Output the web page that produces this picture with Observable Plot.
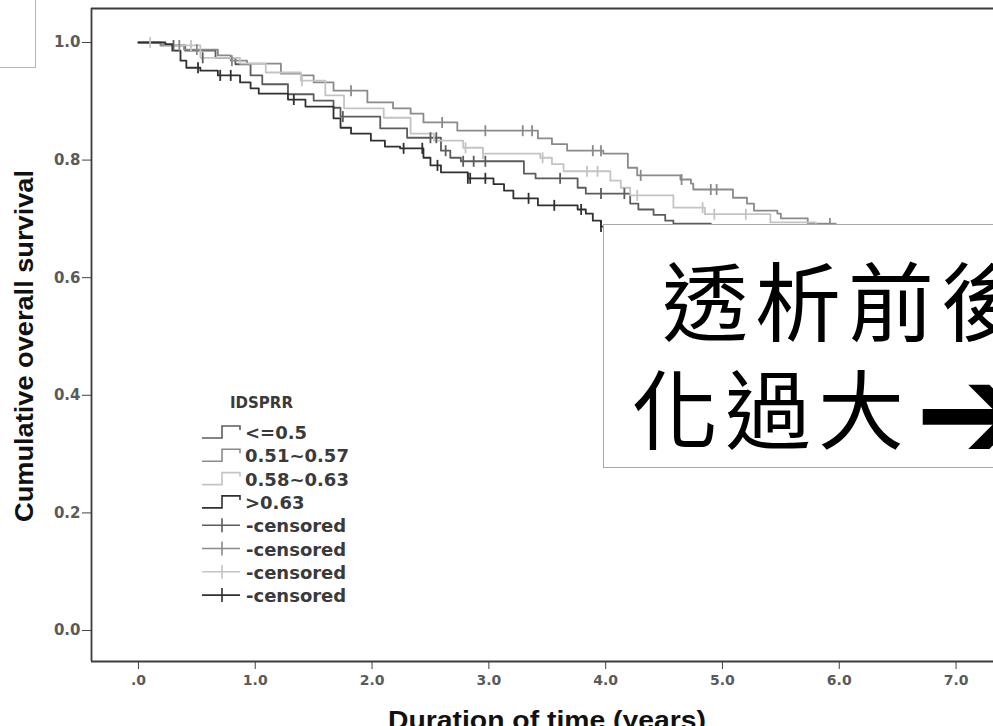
<!DOCTYPE html>
<html><head><meta charset="utf-8">
<script src="https://cdn.jsdelivr.net/npm/d3@7"></script>
<script src="https://cdn.jsdelivr.net/npm/@observablehq/plot@0.6"></script>
<style>
html,body{margin:0;padding:0;background:#fff;overflow:hidden;width:993px;height:726px;}
#wrap{position:relative;width:993px;height:726px;overflow:hidden;}
#chart{position:absolute;left:0;top:0;width:1010px;}
#chart svg{overflow:visible;max-width:none !important;width:1010px !important;height:726px !important;}
#chart svg [aria-label^="y-axis"] text{font-size:15px;font-weight:bold;fill:#5a5a5a;}
#chart svg [aria-label^="x-axis"] text{font-size:14px;font-weight:bold;fill:#5a5a5a;}
.corner{position:absolute;left:-1px;top:-1px;width:35px;height:67px;border:1px solid #b4b4b4;background:#fff;}
.note{position:absolute;left:603px;top:224px;width:420px;height:242px;border:1px solid #a8a8a8;background:#fff;}
.note span{position:absolute;white-space:nowrap;font-family:"Noto Sans CJK TC","DejaVu Sans",sans-serif;line-height:1;color:#000;}
#overlay{position:absolute;left:0;top:0;pointer-events:none;}
</style>
</head><body>
<div id="wrap">
  <div id="chart"></div>
  <svg id="overlay" width="993" height="726"></svg>
  <div class="corner"></div>
  <div class="note">
    <span style="left:58px;top:30px;font-size:86px;letter-spacing:7px">透析前後</span>
    <span style="left:28px;top:138px;font-size:86px;letter-spacing:7px">化過大</span>
    <span style="left:311px;top:108px;font-size:135px">➔</span>
  </div>
</div>
<script>
// ---- data ----
const groups = ["<=0.5", "0.51~0.57", "0.58~0.63", ">0.63"];
const groupColors = ["#5c5c5c", "#8a8a8a", "#c4c4c4", "#303030"];
const legendTitle = "IDSPRR";
const censoredLabel = "-censored";
const xTitle = "Duration of  time (years)";
const yTitle = "Cumulative overall survival";
const xTicks = [0, 1, 2, 3, 4, 5, 6, 7];
const xTickLabels = [".0", "1.0", "2.0", "3.0", "4.0", "5.0", "6.0", "7.0"];
const yTicks = [0, 0.2, 0.4, 0.6, 0.8, 1.0];
const yTickLabels = ["0.0", "0.2", "0.4", "0.6", "0.8", "1.0"];
const xDomain = [-0.402, 7.466];
const yDomain = [-0.0527, 1.0578];

// <=0.5
const timeA = [0, 0.19, 0.40, 0.66, 0.83, 0.96, 1.06, 1.28, 1.50, 1.67, 1.73, 2.07, 2.30, 2.59, 2.67, 2.76, 3.30, 3.40, 3.76, 3.83, 4.21, 4.28, 4.41, 4.51, 4.58, 4.90, 5.50, 6.20];
const survA = [1.000, 0.995, 0.986, 0.974, 0.963, 0.944, 0.929, 0.912, 0.901, 0.889, 0.874, 0.854, 0.838, 0.816, 0.804, 0.798, 0.777, 0.769, 0.753, 0.743, 0.726, 0.716, 0.707, 0.697, 0.692, 0.680, 0.660, 0.660];
const censTimeA = [0.30, 0.55, 1.75, 2.50, 2.55, 2.63, 2.78, 2.87, 2.97, 3.61, 3.96, 4.16];
const censSurvA = [0.995, 0.974, 0.874, 0.838, 0.838, 0.816, 0.798, 0.798, 0.798, 0.769, 0.743, 0.743];

// 0.51~0.57
const timeB = [0, 0.19, 0.39, 0.68, 0.79, 0.93, 1.22, 1.39, 1.50, 1.67, 1.96, 2.18, 2.33, 2.44, 2.73, 3.42, 3.54, 3.67, 3.98, 4.19, 4.27, 4.64, 4.73, 4.75, 5.09, 5.21, 5.27, 5.47, 5.50, 5.73, 5.97, 6.40, 6.70];
const survB = [1.000, 0.995, 0.988, 0.978, 0.969, 0.964, 0.947, 0.944, 0.932, 0.918, 0.898, 0.888, 0.879, 0.864, 0.850, 0.837, 0.827, 0.816, 0.811, 0.787, 0.774, 0.767, 0.760, 0.750, 0.736, 0.726, 0.714, 0.709, 0.701, 0.692, 0.680, 0.665, 0.665];
const censTimeB = [0.35, 0.50, 0.80, 1.82, 2.60, 2.97, 3.29, 3.37, 3.89, 3.96, 4.30, 4.65, 4.90, 4.95, 5.92];
const censSurvB = [0.995, 0.988, 0.969, 0.918, 0.864, 0.850, 0.850, 0.850, 0.816, 0.816, 0.774, 0.767, 0.750, 0.750, 0.692];

// 0.58~0.63
const timeC = [0, 0.23, 0.53, 0.87, 1.09, 1.39, 1.60, 1.76, 2.10, 2.33, 2.53, 2.78, 2.95, 3.44, 3.54, 3.64, 4.04, 4.13, 4.21, 4.58, 4.85, 5.41, 5.80, 6.40];
const survC = [1.000, 0.995, 0.974, 0.964, 0.949, 0.935, 0.910, 0.888, 0.872, 0.845, 0.833, 0.821, 0.811, 0.804, 0.793, 0.781, 0.765, 0.753, 0.740, 0.719, 0.708, 0.694, 0.675, 0.675];
const censTimeC = [0.10, 0.45, 1.40, 2.80, 2.95, 3.46, 3.84, 3.93, 4.27, 4.83, 4.93, 5.20];
const censSurvC = [1.000, 0.995, 0.935, 0.821, 0.811, 0.804, 0.781, 0.781, 0.740, 0.719, 0.708, 0.708];

// >0.63
const timeD = [0, 0.23, 0.29, 0.36, 0.41, 0.53, 0.68, 0.87, 0.96, 1.03, 1.28, 1.43, 1.67, 1.73, 1.82, 1.99, 2.11, 2.24, 2.44, 2.50, 2.59, 2.82, 3.04, 3.13, 3.21, 3.42, 3.76, 3.83, 3.89, 3.96, 4.30, 5.00];
const survD = [1.000, 0.997, 0.986, 0.969, 0.957, 0.952, 0.944, 0.932, 0.922, 0.913, 0.903, 0.891, 0.871, 0.855, 0.845, 0.833, 0.823, 0.820, 0.804, 0.791, 0.779, 0.769, 0.759, 0.748, 0.735, 0.723, 0.716, 0.709, 0.697, 0.687, 0.670, 0.670];
const censTimeD = [0.51, 0.70, 0.79, 1.33, 2.27, 2.43, 2.56, 2.82, 2.84, 2.97, 3.34, 3.56, 3.79, 3.96];
const censSurvD = [0.957, 0.944, 0.944, 0.903, 0.820, 0.820, 0.791, 0.769, 0.769, 0.769, 0.735, 0.723, 0.716, 0.687];

// ---- build tables ----
const series = [
  [timeA, survA, censTimeA, censSurvA],
  [timeB, survB, censTimeB, censSurvB],
  [timeC, survC, censTimeC, censSurvC],
  [timeD, survD, censTimeD, censSurvD]
];
const steps = [], censored = [];
series.forEach(([t, s, ct, cs], k) => {
  t.forEach((v, i) => steps.push({group: groups[k], t: v, s: s[i]}));
  ct.forEach((v, i) => censored.push({group: groups[k], t: v, s: cs[i]}));
});

const tickSymbol = {
  draw(ctx, size) {
    const r = Math.sqrt(size / Math.PI);
    ctx.moveTo(0, -r);
    ctx.lineTo(0, r);
  }
};

const chart = Plot.plot({
  width: 1010,
  height: 726,
  marginLeft: 91,
  marginRight: 0,
  marginTop: 8,
  marginBottom: 65,
  style: {fontFamily: "'DejaVu Sans', sans-serif", fontSize: "13px", color: "#444", background: "transparent", overflow: "visible", maxWidth: "none"},
  x: {domain: xDomain, ticks: xTicks, tickFormat: d => xTickLabels[xTicks.indexOf(d)], tickSize: 8, tickPadding: 6, label: null},
  y: {domain: yDomain, ticks: yTicks, tickFormat: d => yTickLabels[yTicks.indexOf(d)], tickSize: 9, tickPadding: 2, label: null},
  color: {domain: groups, range: groupColors},
  marks: [
    Plot.ruleX([xDomain[0]], {stroke: "#3c3c3c", strokeWidth: 1.8}),
    Plot.ruleY([yDomain[0], yDomain[1]], {stroke: "#3c3c3c", strokeWidth: 1.8}),
    Plot.line(steps, {x: "t", y: "s", z: "group", stroke: "group", curve: "step-after", strokeWidth: 1.8}),
    Plot.dot(censored, {x: "t", y: "s", stroke: "group", symbol: tickSymbol, r: 5.5, strokeWidth: 1.8})
  ]
});
document.getElementById("chart").appendChild(chart);

// ---- axis titles and legend ----
const ov = d3.select("#overlay");
ov.append("text")
  .attr("transform", "translate(33,346) rotate(-90)")
  .attr("text-anchor", "middle")
  .attr("font-family", "'Liberation Sans', Arial, sans-serif")
  .attr("font-weight", "bold").attr("font-size", 25).attr("fill", "#111")
  .attr("textLength", 352).attr("lengthAdjust", "spacingAndGlyphs")
  .text(yTitle);
ov.append("text")
  .attr("x", 547).attr("y", 729)
  .attr("text-anchor", "middle")
  .attr("font-family", "'Liberation Sans', Arial, sans-serif")
  .attr("font-weight", "bold").attr("font-size", 26).attr("fill", "#111")
  .attr("textLength", 318).attr("lengthAdjust", "spacingAndGlyphs")
  .text(xTitle);

const lg = ov.append("g").attr("font-family", "'DejaVu Sans', sans-serif").attr("fill", "#3a3a3a");
lg.append("text").attr("x", 230).attr("y", 408).attr("font-size", 15).attr("font-weight", "bold").attr("fill", "#3a3a3a").text(legendTitle);
const rowY = i => 432 + i * 23.3;
groups.forEach((g, i) => {
  const y = rowY(i);
  lg.append("path")
    .attr("d", `M202,${y + 6}H222V${y - 6}H240V${y - 2}`)
    .attr("fill", "none").attr("stroke", groupColors[i]).attr("stroke-width", 1.6);
  lg.append("text").attr("x", 245).attr("y", y + 7).attr("font-size", 18).attr("font-weight", "bold").attr("fill", "#3a3a3a").text(g);
});
groups.forEach((g, i) => {
  const y = rowY(i + 4);
  lg.append("path").attr("d", `M202,${y}H240M222,${y - 7}V${y + 7}`)
    .attr("fill", "none").attr("stroke", groupColors[i]).attr("stroke-width", 1.6);
  lg.append("text").attr("x", 246).attr("y", y + 7).attr("font-size", 18).attr("font-weight", "bold").attr("fill", "#3a3a3a").text(censoredLabel);
});
</script>
</body></html>
